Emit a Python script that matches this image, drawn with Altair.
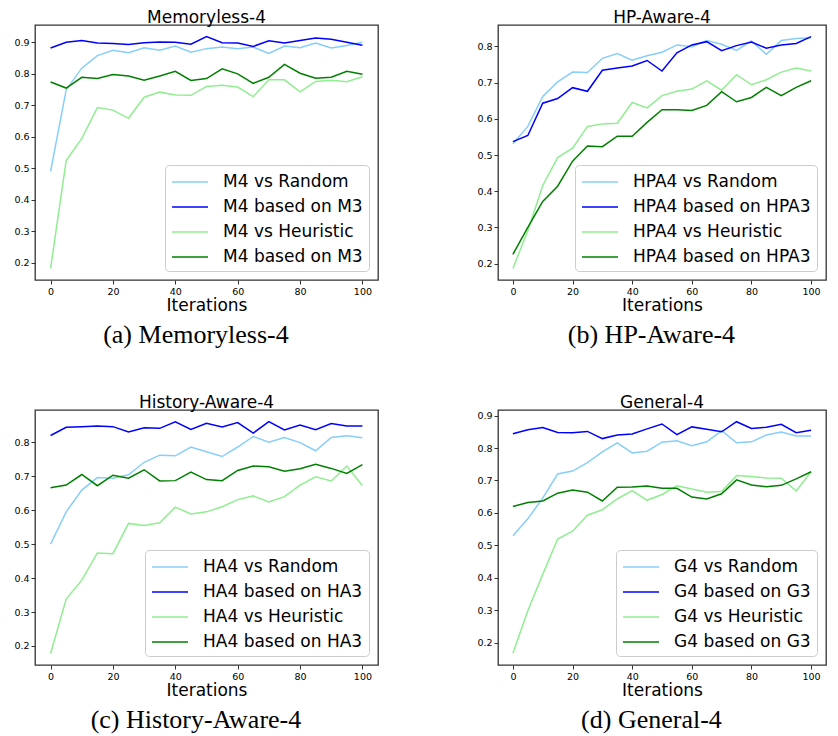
import altair as alt
import pandas as pd

iterations = list(range(0, 101, 5))

# (a) Memoryless-4
m4_vs_random = [0.49, 0.748, 0.817, 0.857, 0.874, 0.866, 0.882, 0.874, 0.887, 0.868, 0.879,
                0.884, 0.879, 0.884, 0.864, 0.887, 0.882, 0.897, 0.881, 0.889, 0.899]
m4_based_m3_blue = [0.881, 0.899, 0.905, 0.897, 0.895, 0.892, 0.898, 0.9, 0.899, 0.893, 0.917,
                    0.898, 0.897, 0.886, 0.904, 0.897, 0.905, 0.913, 0.909, 0.899, 0.89]
m4_vs_heur = [0.182, 0.524, 0.594, 0.692, 0.684, 0.658, 0.725, 0.741, 0.732, 0.731, 0.759,
              0.763, 0.757, 0.727, 0.78, 0.78, 0.742, 0.775, 0.779, 0.774, 0.79]
m4_based_m3_green = [0.773, 0.754, 0.788, 0.784, 0.797, 0.792, 0.779, 0.792, 0.807, 0.778, 0.784,
                     0.815, 0.799, 0.769, 0.788, 0.829, 0.801, 0.785, 0.788, 0.807, 0.798]

# (b) HP-Aware-4
hpa4_vs_random = [0.531, 0.579, 0.662, 0.702, 0.729, 0.728, 0.767, 0.78, 0.762, 0.774, 0.784,
                  0.804, 0.799, 0.816, 0.806, 0.789, 0.815, 0.778, 0.816, 0.822, 0.824]
hpa4_based_blue = [0.537, 0.554, 0.643, 0.656, 0.686, 0.676, 0.734, 0.74, 0.746, 0.761, 0.732,
                   0.782, 0.804, 0.813, 0.788, 0.802, 0.812, 0.795, 0.804, 0.808, 0.827]
hpa4_vs_heur = [0.187, 0.291, 0.416, 0.493, 0.519, 0.579, 0.586, 0.588, 0.645, 0.63, 0.664,
                0.676, 0.682, 0.705, 0.679, 0.722, 0.694, 0.708, 0.729, 0.74, 0.732]
hpa4_based_green = [0.226, 0.3, 0.372, 0.414, 0.483, 0.525, 0.523, 0.552, 0.552, 0.59, 0.625,
                    0.625, 0.623, 0.637, 0.675, 0.647, 0.659, 0.687, 0.664, 0.687, 0.705]

# (c) History-Aware-4
ha4_vs_random = [0.5, 0.595, 0.659, 0.696, 0.694, 0.704, 0.741, 0.762, 0.76, 0.786, 0.772,
                 0.758, 0.786, 0.817, 0.8, 0.814, 0.799, 0.775, 0.814, 0.819, 0.813]
ha4_based_blue = [0.82, 0.844, 0.846, 0.848, 0.846, 0.83, 0.843, 0.841, 0.86, 0.838, 0.856,
                  0.845, 0.858, 0.827, 0.861, 0.836, 0.851, 0.837, 0.855, 0.848, 0.848]
ha4_vs_heur = [0.178, 0.338, 0.394, 0.474, 0.472, 0.561, 0.555, 0.563, 0.609, 0.589, 0.595,
               0.61, 0.631, 0.642, 0.624, 0.64, 0.674, 0.698, 0.686, 0.73, 0.672]
ha4_based_green = [0.666, 0.674, 0.705, 0.672, 0.703, 0.694, 0.719, 0.686, 0.687, 0.712, 0.69,
                   0.687, 0.717, 0.73, 0.728, 0.715, 0.722, 0.735, 0.723, 0.708, 0.734]

# (d) General-4
g4_vs_random = [0.53, 0.582, 0.646, 0.72, 0.729, 0.755, 0.788, 0.816, 0.785, 0.79, 0.818,
                0.822, 0.807, 0.819, 0.853, 0.816, 0.819, 0.84, 0.849, 0.837, 0.837]
g4_based_blue = [0.844, 0.856, 0.863, 0.848, 0.847, 0.851, 0.829, 0.84, 0.843, 0.859, 0.874,
                 0.841, 0.865, 0.858, 0.85, 0.881, 0.86, 0.864, 0.873, 0.847, 0.855]
g4_vs_heur = [0.168, 0.299, 0.411, 0.52, 0.544, 0.593, 0.61, 0.643, 0.669, 0.639, 0.657,
              0.684, 0.674, 0.664, 0.666, 0.715, 0.712, 0.708, 0.707, 0.668, 0.727]
g4_based_green = [0.62, 0.632, 0.637, 0.661, 0.671, 0.664, 0.637, 0.679, 0.68, 0.683, 0.676,
                  0.676, 0.649, 0.643, 0.659, 0.702, 0.686, 0.681, 0.685, 0.705, 0.727]

labels_a = ["M4 vs Random", "M4 based on M3", "M4 vs Heuristic", "M4 based on M3"]
labels_b = ["HPA4 vs Random", "HPA4 based on HPA3", "HPA4 vs Heuristic", "HPA4 based on HPA3"]
labels_c = ["HA4 vs Random", "HA4 based on HA3", "HA4 vs Heuristic", "HA4 based on HA3"]
labels_d = ["G4 vs Random", "G4 based on G3", "G4 vs Heuristic", "G4 based on G3"]

titles = ["Memoryless-4", "HP-Aware-4", "History-Aware-4", "General-4"]
captions = ["(a) Memoryless-4", "(b) HP-Aware-4", "(c) History-Aware-4", "(d) General-4"]
x_ticks = [0, 20, 40, 60, 80, 100]
y_ticks_a = [0.2, 0.3, 0.4, 0.5, 0.6, 0.7, 0.8, 0.9]
y_ticks_b = [0.2, 0.3, 0.4, 0.5, 0.6, 0.7, 0.8]
y_domain_a = [0.145, 0.954]
y_domain_b = [0.155, 0.859]
y_domain_c = [0.144, 0.895]
y_domain_d = [0.132, 0.917]

colors = ["#87CEFA", "#0000FF", "#90EE90", "#008000"]
FRAME = "#333333"


def panel(tag, series, labels, title, caption, y_domain, y_ticks, width, height):
    keys = [f"{tag}{i}" for i in range(4)]
    rows = []
    for k, vals in zip(keys, series):
        for it, v in zip(iterations, vals):
            rows.append({"it": it, "val": v, "key": k})
    df = pd.DataFrame(rows)
    expr = (f"datum.label == '{keys[0]}' ? '{labels[0]}' : "
            f"datum.label == '{keys[1]}' ? '{labels[1]}' : "
            f"datum.label == '{keys[2]}' ? '{labels[2]}' : '{labels[3]}'")
    chart = alt.Chart(df).mark_line(strokeWidth=1.5, clip=True).encode(
        x=alt.X("it:Q",
                scale=alt.Scale(domain=[-5, 105], nice=False, zero=False),
                axis=alt.Axis(values=x_ticks, title="Iterations", format="d")),
        y=alt.Y("val:Q",
                scale=alt.Scale(domain=y_domain, nice=False, zero=False),
                axis=alt.Axis(values=y_ticks, title=None, format=".1f")),
        color=alt.Color("key:N",
                        scale=alt.Scale(domain=keys, range=colors),
                        legend=alt.Legend(orient="bottom-right", title=None,
                                          labelExpr=expr, offset=9,
                                          symbolType="M-1.8,0L1.8,0", symbolSize=400,
                                          symbolStrokeWidth=1.5, symbolOffset=8,
                                          labelFontSize=17, labelOffset=22, labelLimit=0,
                                          labelFont="DejaVu Sans", labelColor="black",
                                          rowPadding=6, padding=6,
                                          fillColor="rgba(255,255,255,0.8)",
                                          strokeColor="#cccccc", cornerRadius=4)),
        order=alt.Order("it:Q"),
    ).properties(
        width=width, height=height,
        title=alt.Title(title, fontSize=17, font="DejaVu Sans", fontWeight="normal",
                        color="black", offset=-2),
    )
    return alt.vconcat(chart, title=alt.Title(caption, orient="bottom", anchor="middle",
                                              font="Liberation Serif", fontSize=26,
                                              fontWeight="normal", color="black",
                                              offset=8)).resolve_scale(color="independent")


pa = panel("a", [m4_vs_random, m4_based_m3_blue, m4_vs_heur, m4_based_m3_green], labels_a,
           titles[0], captions[0], y_domain_a, y_ticks_a, 343, 255)
pb = panel("b", [hpa4_vs_random, hpa4_based_blue, hpa4_vs_heur, hpa4_based_green], labels_b,
           titles[1], captions[1], y_domain_b, y_ticks_b, 328, 255)
pc = panel("c", [ha4_vs_random, ha4_based_blue, ha4_vs_heur, ha4_based_green], labels_c,
           titles[2], captions[2], y_domain_c, y_ticks_b, 343, 255)
pd_ = panel("d", [g4_vs_random, g4_based_blue, g4_vs_heur, g4_based_green], labels_d,
            titles[3], captions[3], y_domain_d, y_ticks_a, 328, 255)

chart = alt.vconcat(
    alt.hconcat(pa, pb, spacing=97).resolve_scale(color="independent"),
    alt.hconcat(pc, pd_, spacing=97).resolve_scale(color="independent"),
    spacing=44,
).resolve_scale(color="independent").properties(
    padding={"left": 5, "top": 0, "right": 0, "bottom": 0}
).configure_view(
    stroke=FRAME, strokeWidth=1.3
).configure_axis(
    domain=False, grid=False, tickColor=FRAME, tickSize=4, tickWidth=1,
    labelFont="DejaVu Sans", labelFontSize=9.5, labelColor="black", labelPadding=2,
    titleFont="DejaVu Sans", titleFontSize=17, titleFontWeight="normal", titleColor="black",
    titlePadding=2,
)

chart.save("out.html", embed_options={"renderer": "svg", "actions": False})
